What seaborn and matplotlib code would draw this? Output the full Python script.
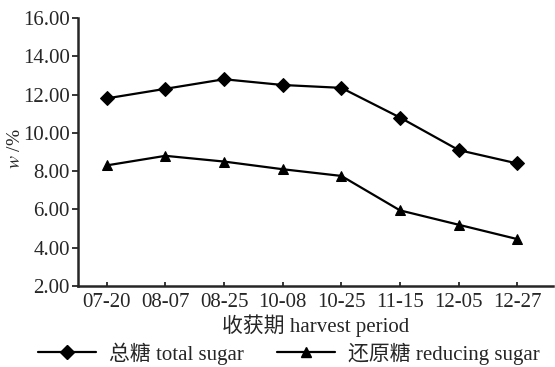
import matplotlib
matplotlib.use('Agg')
import matplotlib.pyplot as plt
from matplotlib.lines import Line2D
import numpy as np
import pandas as pd
import seaborn as sns

periods = ['07-20', '08-07', '08-25', '10-08', '10-25', '11-15', '12-05', '12-27']
total_sugar = [11.8, 12.3, 12.8, 12.5, 12.35, 10.8, 9.1, 8.4]
reducing_sugar = [8.3, 8.8, 8.5, 8.1, 7.75, 5.95, 5.2, 4.45]
series_names = ['总糖 total sugar', '还原糖 reducing sugar']

df = pd.DataFrame({
    'x': list(range(len(periods))) * 2,
    'value': total_sugar + reducing_sugar,
    'series': [series_names[0]] * len(periods) + [series_names[1]] * len(periods),
})

sns.set_style('ticks')
plt.rcParams['font.family'] = ['Liberation Serif', 'Noto Sans CJK SC']
plt.rcParams['mathtext.fontset'] = 'stix'

fig = plt.figure(figsize=(5.55, 3.67), dpi=100)
ax = fig.add_axes([0.1405, 0.2207, 0.855, 0.7303])

sns.lineplot(data=df, x='x', y='value', hue='series', style='series',
             markers=['D', '^'], dashes=False, palette=['black', 'black'],
             markersize=7, linewidth=1.6, markeredgecolor='black', ax=ax, legend=False)

ax.set_xlim(-0.49, 7.6)
ax.set_ylim(2, 16)
ax.set_yticks(np.arange(2, 17, 2))
ax.set_yticklabels([f'{v:.2f}' for v in np.arange(2, 17, 2)], fontsize=15)
ax.set_xticks(range(len(periods)))
ax.set_xticklabels(periods, fontsize=15)
ax.tick_params(axis='x', direction='in', length=3, width=1.3, pad=5)
ax.tick_params(axis='y', direction='out', length=4, width=1.3, pad=2)
for s in ['top', 'right']:
    ax.spines[s].set_visible(False)
for s in ['left', 'bottom']:
    ax.spines[s].set_linewidth(1.8)

ax.set_xlabel('收获期 harvest period', fontsize=15, labelpad=2)
ax.set_ylabel('')
fig.text(0.028, 0.595, r'$w$ /%', rotation=90, fontsize=14, ha='center', va='center')

handles = [Line2D([], [], color='black', marker='D', markersize=7, linewidth=1.6),
           Line2D([], [], color='black', marker='^', markersize=7, linewidth=1.6)]
fig.legend(handles, series_names, loc='lower center', bbox_to_anchor=(0.52, -0.045),
           ncol=2, frameon=False, fontsize=15, handlelength=2.8, columnspacing=1.6,
           handletextpad=0.6)

fig.savefig('out.png', dpi=100)
